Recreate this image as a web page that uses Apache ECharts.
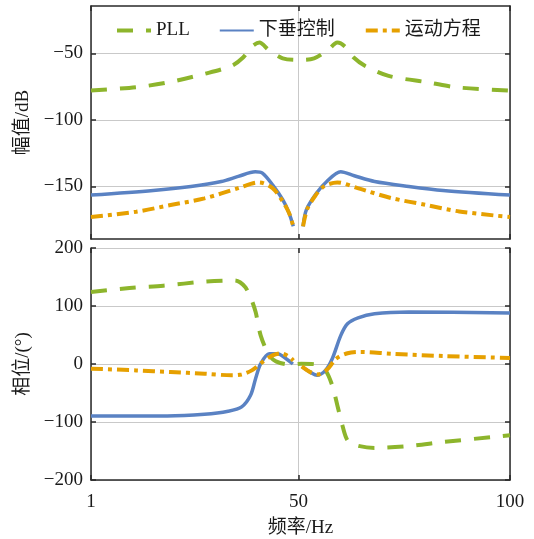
<!DOCTYPE html>
<html><head><meta charset="utf-8">
<script src="https://cdn.jsdelivr.net/npm/echarts@6/dist/echarts.min.js"></script>
<style>html,body{margin:0;padding:0;background:#fff}#c{width:534px;height:539px}</style>
</head><body><div id="c"></div>
<script>
// ---- data ----
const seriesNames = ['PLL', '下垂控制', '运动方程'];
const xTicks = [1, 50, 100];
const magTicks = [-150, -100, -50];
const phaseTicks = [-200, -100, 0, 100, 200];

// magnitude (dB)
const magPllF = [1, 11.7, 19, 27.8, 34.2, 37, 39, 40.8, 43, 46.3, 50, 53.7, 57, 59.2, 61, 63, 65.8, 71.3, 80.9, 87.4, 100];
const magPllV = [-78, -75.5, -72, -65.5, -59.5, -53, -45, -42, -47.5, -53.8, -55, -53.8, -47.5, -42, -45, -53, -59.5, -67, -72, -75.6, -78];

const magDroopLF = [1, 15.7, 24.6, 31.8, 35.8, 39.8, 41.5, 43.9, 46.3, 47.8, 48.8];
const magDroopLV = [-156.5, -153, -150, -146.3, -142.5, -139, -140, -148.8, -160, -170, -180];
const magDroopRF = [51.1, 51.9, 54.3, 56.7, 60, 63.2, 68, 76.1, 84.2, 100];
const magDroopRV = [-180, -167.5, -155, -146.3, -139, -142, -146.3, -150, -153, -156.5];

const magSwingLF = [1, 11.7, 19.8, 27.8, 35.8, 40.7, 43.9, 46.3, 47.8, 48.8];
const magSwingLV = [-173, -169, -164, -159, -151.3, -147, -151.3, -161.3, -170, -180];
const magSwingRF = [51.1, 52.1, 54, 56, 59.2, 64, 72, 80, 88, 100];
const magSwingRV = [-180, -167, -157, -150, -147, -151.3, -158.8, -163.8, -168.8, -173];

// phase (deg)
const phPllF = [1, 10.1, 18.1, 27.8, 35, 36.2, 37.5, 38.7, 39.9, 41.1, 43.1, 44.7, 47.9, 50.7, 54.4, 56.4, 58, 59.2, 60.4, 61.6, 63.6, 68, 76.1, 84.2, 96.2, 100];
const phPllV = [124, 131, 135, 142, 144, 141, 132, 115, 89.5, 49, 15, 4.5, -1, 0.5, -1, -11, -37, -71, -106, -131.5, -140, -144.7, -141.5, -134.5, -125.7, -123];

const phDroopLF = [1, 19, 27.8, 33.4, 36.6, 38.7, 39.9, 41.1, 43.1, 45.1, 47.1, 48.7];
const phDroopLV = [-89.6, -89.6, -86.7, -81.5, -74, -54, -25, 0.5, 17.7, 17.7, 9, 0];
const phDroopRF = [50.9, 52.8, 54.4, 56.4, 58, 60, 61.6, 64.1, 68, 76.1, 100];
const phDroopRV = [-5, -14, -19.5, -11, 9, 49, 69.4, 79.7, 86.6, 89.5, 88];

const phSwingLF = [1, 11.7, 19.8, 27.8, 34.2, 36.6, 39, 41.5, 43.9, 45.9, 47.9, 48.8];
const phSwingLV = [-8, -11, -13.8, -16.7, -19.5, -18, -11, 3.4, 14.8, 18.5, 12, 6];
const phSwingRF = [50.8, 52.8, 54.6, 56.8, 58.9, 61.6, 64.7, 72, 84.2, 100];
const phSwingRV = [-4, -14, -18, -9.5, 9, 18.5, 20.8, 17.7, 13.8, 10.5];

// ---- styling ----
const FONT = "'Liberation Serif','Noto Sans CJK SC',serif";
const TXT = '#1a1a1a';
const AX = '#2a2a2a';
const GRIDC = '#c9c9c9';
const colors = ['#8db52c', '#5a82c3', '#e6a000'];
const lineTypes = [
  {width: 4, type: [16, 13]},
  {width: 3.5, type: 'solid'},
  {width: 4, type: [12, 5, 4, 5]}
];
const legendWidths = [4, 2, 4];
const minus = v => String(v).replace('-', '\u2212');
const zip = (a, b) => a.map((x, i) => [x, b[i]]);

function mkSeries(idx, grid, f, v) {
  return {
    name: seriesNames[idx], type: 'line',
    xAxisIndex: grid * 2, yAxisIndex: grid * 2,
    data: zip(f, v), showSymbol: false, symbol: 'none',
    smooth: 0.3, color: colors[idx],
    lineStyle: Object.assign({color: colors[idx], cap: 'butt'}, lineTypes[idx]),
    z: idx === 1 ? 3 : (idx === 2 ? 4 : 2),
    silent: true, animation: false
  };
}

function xAx(grid, pos, labels) {
  return {
    type: 'value', gridIndex: grid, position: pos, min: 1, max: 100,
    axisLine: {show: !(grid === 1 && pos === 'top'), onZero: false, lineStyle: {color: AX, width: 1.5}},
    axisTick: {show: true, inside: true, length: 5, customValues: xTicks, lineStyle: {color: AX, width: 1.5}},
    axisLabel: {show: labels, customValues: xTicks, color: TXT, fontFamily: FONT, fontSize: 19, margin: 13},
    splitLine: {show: pos === 'bottom', lineStyle: {color: GRIDC, width: 1}},
    name: labels ? '频率/Hz' : '', nameLocation: 'middle', nameGap: 39,
    nameTextStyle: {color: TXT, fontFamily: FONT, fontSize: 19}
  };
}

function yAx(grid, pos, min, max, ticks, name, labels) {
  return {
    type: 'value', gridIndex: grid, position: pos, min: min, max: max,
    axisLine: {show: true, onZero: false, lineStyle: {color: AX, width: 1.5}},
    axisTick: {show: true, inside: true, length: 5, customValues: ticks, lineStyle: {color: AX, width: 1.5}},
    axisLabel: {show: labels, customValues: ticks, formatter: minus, color: TXT, fontFamily: FONT, fontSize: 19, margin: 8},
    splitLine: {show: pos === 'left', lineStyle: {color: GRIDC, width: 1}},
    name: labels ? name : '', nameLocation: 'middle', nameGap: 55,
    nameTextStyle: {color: TXT, fontFamily: FONT, fontSize: 19}
  };
}

const chart = echarts.init(document.getElementById('c'), null, {renderer: 'canvas'});
chart.setOption({
  animation: false,
  backgroundColor: '#fff',
  textStyle: {fontFamily: FONT},
  legend: {
    left: 110, top: 16, itemWidth: 34, itemHeight: 14, itemGap: 29,
    data: seriesNames.map((n, i) => ({name: n, lineStyle: {width: legendWidths[i]}})),
    itemStyle: {color: 'transparent', borderColor: 'transparent', borderWidth: 0, opacity: 0},
    textStyle: {color: TXT, fontFamily: FONT, fontSize: 19}
  },
  grid: [
    {left: 91, right: 24, top: 6, height: 233, containLabel: false},
    {left: 91, right: 24, top: 248, height: 232, containLabel: false}
  ],
  xAxis: [
    xAx(0, 'bottom', false), xAx(0, 'top', false),
    xAx(1, 'bottom', true), xAx(1, 'top', false)
  ],
  yAxis: [
    yAx(0, 'left', -189.5, -14.5, magTicks, '幅值/dB', true),
    yAx(0, 'right', -189.5, -14.5, magTicks, '', false),
    yAx(1, 'left', -200, 200, phaseTicks, '相位/(°)', true),
    yAx(1, 'right', -200, 200, phaseTicks, '', false)
  ],
  series: [
    mkSeries(0, 0, magPllF, magPllV),
    mkSeries(1, 0, magDroopLF, magDroopLV),
    mkSeries(1, 0, magDroopRF, magDroopRV),
    mkSeries(2, 0, magSwingLF, magSwingLV),
    mkSeries(2, 0, magSwingRF, magSwingRV),
    mkSeries(0, 1, phPllF, phPllV),
    mkSeries(1, 1, phDroopLF, phDroopLV),
    mkSeries(1, 1, phDroopRF, phDroopRV),
    mkSeries(2, 1, phSwingLF, phSwingLV),
    mkSeries(2, 1, phSwingRF, phSwingRV)
  ]
});
</script></body></html>
